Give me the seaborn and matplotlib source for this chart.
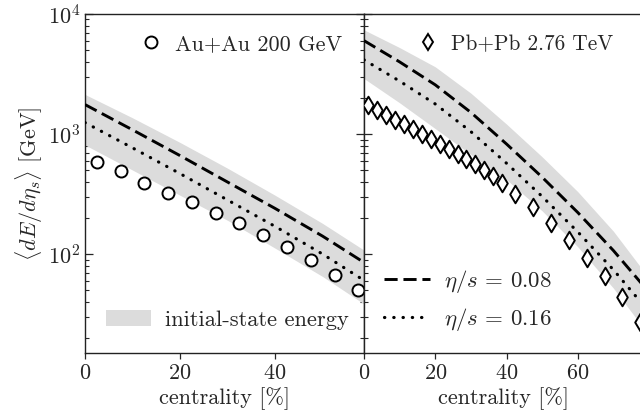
import matplotlib
matplotlib.use('Agg')
import matplotlib.pyplot as plt
import seaborn as sns
from matplotlib.patches import Patch
from matplotlib.lines import Line2D

# Au+Au 200 GeV data points
au_cent = [2.5, 7.5, 12.5, 17.5, 22.5, 27.5, 32.5, 37.5, 42.5, 47.5, 52.5, 57.5]
au_dedeta = [587, 494, 393, 325, 274, 222, 180, 143, 114, 89, 67, 50]

# Au+Au hydro curves and initial-state band
au_grid = [0, 10, 20, 30, 40, 50, 60]
au_visc008 = [1760, 1084, 661, 398, 240, 141, 79]
au_visc016 = [1246, 767, 468, 282, 170, 100, 56]
au_band_hi = [2138, 1365, 851, 519, 309, 180, 100]
au_band_lo = [811, 501, 309, 191, 112, 65, 35.5]

# Pb+Pb 2.76 TeV data points
pb_cent = [1.25, 3.75, 6.25, 8.75, 11.25, 13.75, 16.25, 18.75, 21.25, 23.75,
           26.25, 28.75, 31.25, 33.75, 36.25, 38.75,
           42.5, 47.5, 52.5, 57.5, 62.5, 67.5, 72.5, 77.5]
pb_dedeta = [1737, 1585, 1447, 1320, 1205, 1100, 1000, 909, 827, 752,
             681, 617, 558, 504, 446, 394,
             316, 245, 180, 131, 93, 66, 44, 27]

# Pb+Pb hydro curves and initial-state band
pb_grid = [0, 10, 20, 30, 40, 50, 60, 70, 80]
pb_visc008 = [6000, 3990, 2570, 1514, 826, 437, 222, 107, 48]
pb_visc016 = [4150, 2760, 1780, 1047, 571, 302, 153, 74, 33]
pb_band_hi = [7380, 5250, 3630, 2190, 1210, 646, 331, 155, 63]
pb_band_lo = [2900, 1820, 1110, 676, 417, 229, 115, 52, 21]

sns.set_style('ticks')
plt.rcParams['font.family'] = 'serif'
plt.rcParams['font.serif'] = ['cmr10']
plt.rcParams['mathtext.fontset'] = 'cm'
plt.rcParams['axes.unicode_minus'] = False
plt.rcParams['axes.formatter.use_mathtext'] = True

band_color = '#dcdcdc'
dash_style = (0, (4.5, 2.0))
dot_style = (0, (0.1, 2.8))
FS = 16

fig = plt.figure(figsize=(6.4, 4.19), dpi=100)
axL = fig.add_axes([85 / 640, 66 / 419, 279 / 640, 339 / 419])
axR = fig.add_axes([364 / 640, 66 / 419, 279 / 640, 339 / 419])


def draw_panel(ax, grid, v1, v2, lo, hi, cent, vals, marker, msize):
    ax.fill_between(grid, lo, hi, color=band_color, lw=0, zorder=1)
    sns.lineplot(x=grid, y=v1, ax=ax, color='black', lw=2.1, linestyle=dash_style,
                 zorder=3)
    sns.lineplot(x=grid, y=v2, ax=ax, color='black', lw=2.3, linestyle=dot_style,
                 zorder=3)
    ax.lines[-1].set_dash_capstyle('round')
    sns.scatterplot(x=cent, y=vals, ax=ax, marker=marker, s=msize,
                    facecolor='white', edgecolor='black', linewidth=1.4, zorder=4)
    ax.set_yscale('log')
    ax.set_ylim(15, 1e4)
    ax.set_xlabel('centrality [%]', fontsize=FS, labelpad=3)
    for sp in ax.spines.values():
        sp.set_linewidth(1.0)
        sp.set_color('#222222')
    ax.tick_params(axis='y', which='major', direction='in', length=6, width=0.9)
    ax.tick_params(axis='y', which='minor', direction='in', length=3, width=0.8)
    ax.tick_params(axis='x', which='major', direction='out', length=4, width=0.9,
                   labelsize=FS)
    ax.tick_params(axis='y', labelsize=FS)


draw_panel(axL, au_grid, au_visc008, au_visc016, au_band_lo, au_band_hi,
           au_cent, au_dedeta, 'o', 75)
draw_panel(axR, pb_grid, pb_visc008, pb_visc016, pb_band_lo, pb_band_hi,
           pb_cent, pb_dedeta, 'd', 80)

axL.set_xlim(0, 58.7)
axL.set_xticks([0, 20, 40])
axL.tick_params(axis='y', which='both', right=True)
axL.set_yticks([1e2, 1e3, 1e4])
axL.set_ylabel(r'$\langle dE/d\eta_s\rangle$ [GeV]', fontsize=FS, labelpad=2)

axR.set_xlim(0, 78.3)
axR.set_xticks([0, 20, 40, 60])
axR.set_yticks([1e2, 1e3, 1e4])
axR.tick_params(axis='y', which='both', labelleft=False)
axR.set_ylabel('')

# legends
kw = dict(frameon=False, handletextpad=0.6, borderpad=0.2)
h_au = Line2D([], [], marker='o', ls='none', mfc='white', mec='black', ms=8.6, mew=1.4)
leg = axL.legend([h_au], ['Au+Au 200 GeV'], loc='center right', fontsize=16,
                 bbox_to_anchor=((358 - 85) / 279, 0.911), handlelength=1.0, **kw)
axL.add_artist(leg)
h_band = Patch(facecolor=band_color, edgecolor='none')
axL.legend([h_band], ['initial-state energy'], loc='center left', fontsize=16.2,
           bbox_to_anchor=(0.02, 0.097), handlelength=2.0, handleheight=0.7, **kw)

h_pb = Line2D([], [], marker='d', ls='none', mfc='white', mec='black', ms=8.5, mew=1.4)
leg = axR.legend([h_pb], ['Pb+Pb 2.76 TeV'], loc='center right', fontsize=15.3,
                 bbox_to_anchor=((628 - 364) / 279, 0.911), handlelength=1.0, **kw)
axR.add_artist(leg)
h1 = Line2D([], [], color='black', lw=2.1, ls=dash_style)
h2 = Line2D([], [], color='black', lw=2.3, ls=dot_style, dash_capstyle='round')
axR.legend([h1, h2], [r'$\eta/s\,=\,0.08$', r'$\eta/s\,=\,0.16$'], loc='center left',
           fontsize=16.5, bbox_to_anchor=(0.015, 0.155), handlelength=2.0,
           labelspacing=0.5, **kw)

fig.savefig('out.png', dpi=100)
